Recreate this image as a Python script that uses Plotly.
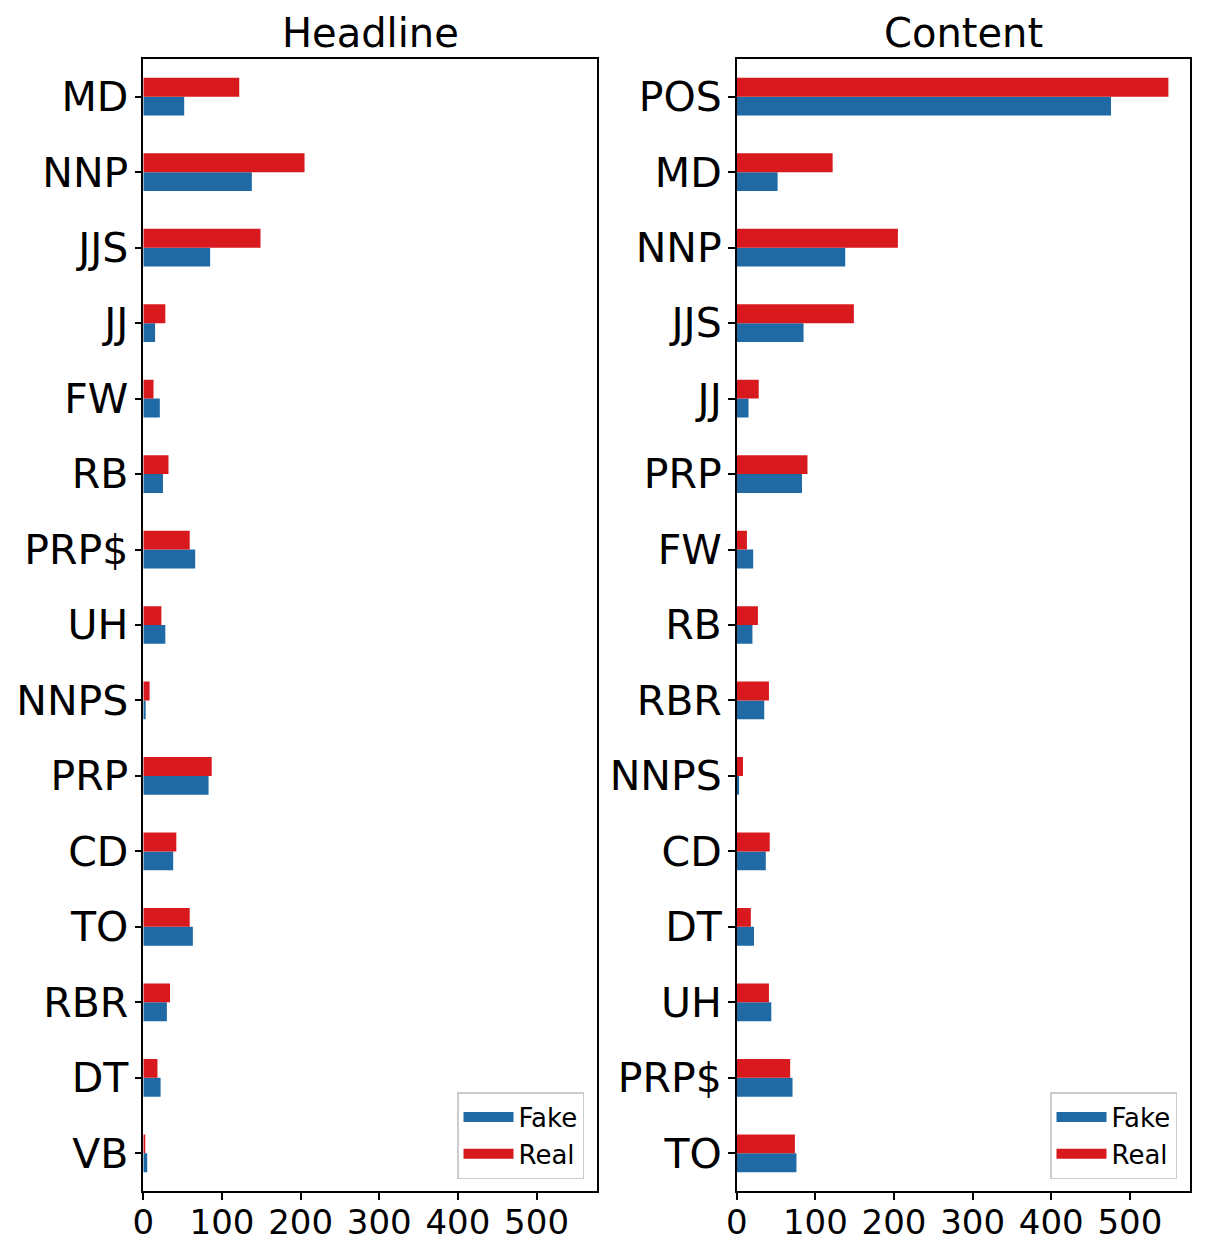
import plotly.graph_objects as go

# ---------------- data ----------------
headline_cats = ["MD", "NNP", "JJS", "JJ", "FW", "RB", "PRP$", "UH", "NNPS",
                 "PRP", "CD", "TO", "RBR", "DT", "VB"]
headline_fake = [52, 138, 85, 15, 21, 25, 66, 28, 3, 83, 38, 63, 30, 22, 5]
headline_real = [122, 205, 149, 28, 13, 32, 59, 23, 8, 87, 42, 59, 34, 18, 2]

content_cats = ["POS", "MD", "NNP", "JJS", "JJ", "PRP", "FW", "RB", "RBR",
                "NNPS", "CD", "DT", "UH", "PRP$", "TO"]
content_fake = [476, 52, 138, 85, 15, 83, 21, 20, 35, 3, 37, 22, 44, 71, 76]
content_real = [549, 122, 205, 149, 28, 90, 13, 27, 41, 8, 42, 18, 41, 68, 74]

x_ticks = [0, 100, 200, 300, 400, 500]
panel_titles = ["Headline", "Content"]
series_names = ["Fake", "Real"]

# ---------------- style ----------------
FAKE_COLOR = "#1f6aa5"
REAL_COLOR = "#d81a1f"
FONT = "DejaVu Sans"
W, H = 1213, 1254

xmax = max(headline_fake + headline_real + content_fake + content_real) * 1.05

fig = go.Figure()

panels = [
    (headline_cats, headline_fake, headline_real, "x", "y", "legend"),
    (content_cats, content_fake, content_real, "x2", "y2", "legend2"),
]

for cats, fake, real, xa, ya, leg in panels:
    fig.add_trace(go.Bar(y=cats, x=fake, orientation="h", name=series_names[0],
                         marker=dict(color=FAKE_COLOR, line=dict(width=0)),
                         xaxis=xa, yaxis=ya, showlegend=False))
    fig.add_trace(go.Bar(y=cats, x=real, orientation="h", name=series_names[1],
                         marker=dict(color=REAL_COLOR, line=dict(width=0)),
                         xaxis=xa, yaxis=ya, showlegend=False))
    # legend-only swatches
    fig.add_trace(go.Scatter(x=[None], y=[None], mode="lines", name=series_names[0],
                             line=dict(color=FAKE_COLOR, width=17),
                             xaxis=xa, yaxis=ya, legend=leg, hoverinfo="skip"))
    fig.add_trace(go.Scatter(x=[None], y=[None], mode="lines", name=series_names[1],
                             line=dict(color=REAL_COLOR, width=17),
                             xaxis=xa, yaxis=ya, legend=leg, hoverinfo="skip"))

y_bot = 1 - 1191 / H
y_top = 1 - 59 / H
dom_left = [143.3 / W, 596.7 / W]
dom_right = [736.7 / W, 1190 / W]

def xaxis_style(domain, anchor):
    return dict(domain=domain, anchor=anchor, range=[0, xmax], type="linear",
                tickvals=x_ticks, ticks="outside", ticklen=7, tickwidth=1.5,
                tickcolor="black", showline=True, linecolor="black", linewidth=1.5,
                mirror=True, showgrid=False, zeroline=False, automargin=False,
                tickfont=dict(family=FONT, size=34, color="black"),
                ticklabelstandoff=-7, fixedrange=True)

def yaxis_style(cats, anchor):
    return dict(domain=[y_bot, y_top], anchor=anchor, type="category",
                categoryorder="array", categoryarray=list(reversed(cats)),
                range=[-0.5, len(cats) - 0.5], ticks="outside", ticklen=7,
                tickwidth=1.5, tickcolor="black", showline=True, linecolor="black",
                linewidth=1.5, mirror=True, showgrid=False, zeroline=False,
                automargin=False, tickfont=dict(family=FONT, size=41, color="black"),
                ticklabelstandoff=-2, fixedrange=True)

legend_common = dict(
    bgcolor="white", bordercolor="#cccccc", borderwidth=1.5,
    font=dict(family=FONT, size=26, color="black"),
    xanchor="right", yanchor="bottom", itemwidth=50,
    tracegroupgap=0,
)

fig.update_layout(
    width=W, height=H,
    margin=dict(l=0, r=0, t=0, b=0),
    paper_bgcolor="white", plot_bgcolor="white",
    barmode="group", bargap=0.5, bargroupgap=0,
    font=dict(family=FONT, color="black"),
    xaxis=xaxis_style(dom_left, "y"),
    yaxis=yaxis_style(headline_cats, "x"),
    xaxis2=xaxis_style(dom_right, "y2"),
    yaxis2=yaxis_style(content_cats, "x2"),
    legend=dict(x=584 / W, y=1 - 1179 / H, **legend_common),
    legend2=dict(x=1177 / W, y=1 - 1179 / H, **legend_common),
    annotations=[
        dict(text=panel_titles[0], x=sum(dom_left) / 2, y=1 - 58 / H,
             xref="paper", yref="paper", xanchor="center", yanchor="bottom",
             showarrow=False, font=dict(family=FONT, size=40, color="black")),
        dict(text=panel_titles[1], x=sum(dom_right) / 2, y=1 - 58 / H,
             xref="paper", yref="paper", xanchor="center", yanchor="bottom",
             showarrow=False, font=dict(family=FONT, size=40, color="black")),
    ],
)

fig.write_html("out.html")
